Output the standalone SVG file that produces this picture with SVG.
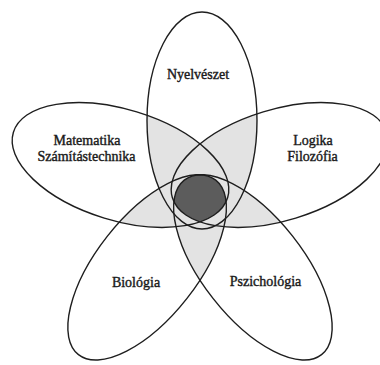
<svg xmlns="http://www.w3.org/2000/svg" xmlns:xlink="http://www.w3.org/1999/xlink" width="380" height="365" viewBox="0 0 380 365">
  <style>
    .petal { fill: none; stroke: #1e1e1e; stroke-width: 1.4; }
    .lt { fill: #e3e3e3; stroke: none; }
    .core { fill: #5c5c5c; stroke: none; }
    .lbl { font-family: "Liberation Serif", "Times New Roman", serif; font-size: 14px; fill: #1a1a1a; stroke: #1a1a1a; stroke-width: 0.4; text-anchor: middle; }
  </style>
  <defs>
    <ellipse id="eT" cx="202" cy="120.5" rx="55" ry="108.5"/>
    <ellipse id="eL" cx="120.5" cy="165" rx="112" ry="55.5" transform="rotate(17 120.5 165)"/>
    <ellipse id="eR" cx="279.5" cy="165" rx="112" ry="55.5" transform="rotate(-17 279.5 165)"/>
    <ellipse id="eB" cx="147.1" cy="267.4" rx="111" ry="50.5" transform="rotate(-51.8 147.1 267.4)"/>
    <ellipse id="eP" cx="252.9" cy="267.4" rx="111" ry="50.5" transform="rotate(51.8 252.9 267.4)"/>
    <clipPath id="cT"><ellipse cx="202" cy="120.5" rx="55" ry="108.5"/></clipPath>
    <clipPath id="cL"><ellipse cx="120.5" cy="165" rx="112" ry="55.5" transform="rotate(17 120.5 165)"/></clipPath>
    <clipPath id="cR"><ellipse cx="279.5" cy="165" rx="112" ry="55.5" transform="rotate(-17 279.5 165)"/></clipPath>
    <clipPath id="cB"><ellipse cx="147.1" cy="267.4" rx="111" ry="50.5" transform="rotate(-51.8 147.1 267.4)"/></clipPath>
  </defs>
  <rect width="380" height="365" fill="#ffffff"/>
  <g id="overlaps">
    <g clip-path="url(#cT)"><use xlink:href="#eL" class="lt"/><use xlink:href="#eR" class="lt"/><use xlink:href="#eB" class="lt"/><use xlink:href="#eP" class="lt"/></g>
    <g clip-path="url(#cL)"><use xlink:href="#eR" class="lt"/><use xlink:href="#eB" class="lt"/><use xlink:href="#eP" class="lt"/></g>
    <g clip-path="url(#cR)"><use xlink:href="#eB" class="lt"/><use xlink:href="#eP" class="lt"/></g>
    <g clip-path="url(#cB)"><use xlink:href="#eP" class="lt"/></g>
  </g>
  <g id="center">
    <g clip-path="url(#cT)"><g clip-path="url(#cL)"><g clip-path="url(#cR)"><g clip-path="url(#cB)">
      <use xlink:href="#eP" class="core"/>
    </g></g></g></g>
  </g>
  <g id="nyelveszet">
    <use xlink:href="#eT" class="petal"/>
    <text class="lbl" x="198" y="79">Nyelvészet</text>
  </g>
  <g id="matematika">
    <use xlink:href="#eL" class="petal"/>
    <text class="lbl" x="87" y="145">Matematika</text>
    <text class="lbl" x="86.5" y="161">Számítástechnika</text>
  </g>
  <g id="logika">
    <use xlink:href="#eR" class="petal"/>
    <text class="lbl" x="313" y="145">Logika</text>
    <text class="lbl" x="312.5" y="161">Filozófia</text>
  </g>
  <g id="biologia">
    <use xlink:href="#eB" class="petal"/>
    <text class="lbl" x="136" y="287">Biológia</text>
  </g>
  <g id="pszichologia">
    <use xlink:href="#eP" class="petal"/>
    <text class="lbl" x="265.5" y="286">Pszichológia</text>
  </g>
  <g id="connectors"/>
</svg>
